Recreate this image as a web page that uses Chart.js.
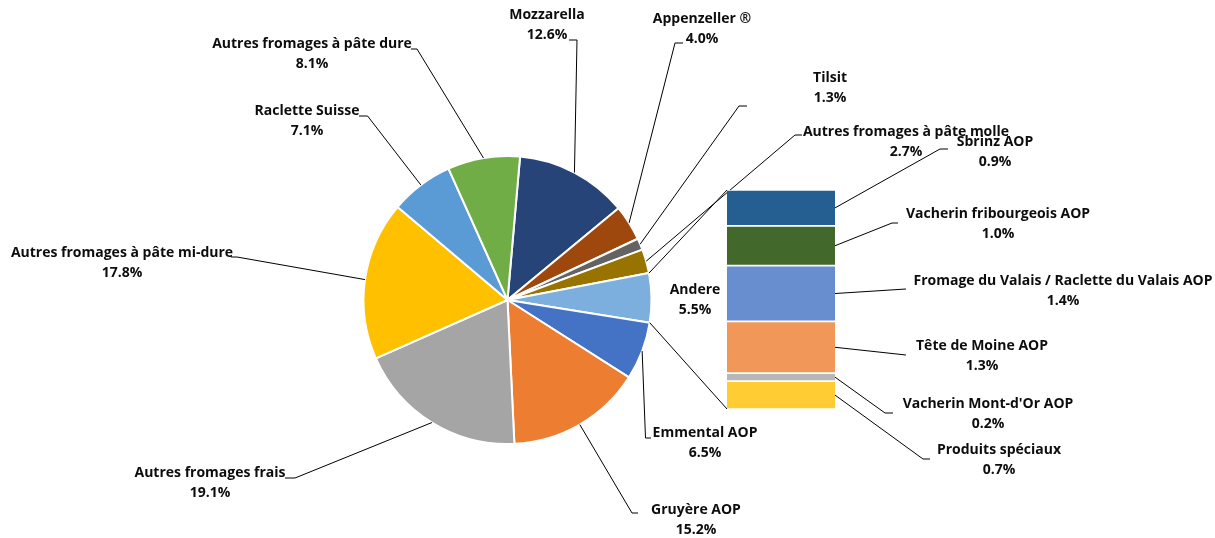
<!DOCTYPE html>
<html>
<head>
<meta charset="utf-8">
<script src="https://cdn.jsdelivr.net/npm/chart.js@4.4.0/dist/chart.umd.min.js"></script>
<style>
  html, body { margin: 0; padding: 0; background: #fff; }
  #wrap { position: relative; width: 1215px; height: 538px; }
  #wrap canvas { position: absolute; left: 0; top: 0; }
</style>
</head>
<body>
<div id="wrap">
  <canvas id="pieCanvas" width="1215" height="538"></canvas>
  <canvas id="barCanvas" width="1215" height="538"></canvas>
</div>
<script>
// pie data (clockwise from top)
const pieLabels = ["Mozzarella", "Appenzeller ®", "Tilsit", "Autres fromages à pâte molle", "Andere",
  "Emmental AOP", "Gruyère AOP", "Autres fromages frais", "Autres fromages à pâte mi-dure",
  "Raclette Suisse", "Autres fromages à pâte dure"];
const pieValues = [12.6, 4.0, 1.3, 2.7, 5.5, 6.5, 15.2, 19.1, 17.8, 7.1, 8.1];
const pieColors = ["#264478", "#9e480e", "#636363", "#997300", "#7cafdd",
  "#4472c4", "#ed7d31", "#a5a5a5", "#ffc000", "#5b9bd5", "#70ad47"];

// breakdown of "Andere" (top to bottom)
const barLabels = ["Sbrinz AOP", "Vacherin fribourgeois AOP", "Fromage du Valais / Raclette du Valais AOP",
  "Tête de Moine AOP", "Vacherin Mont-d'Or AOP", "Produits spéciaux"];
const barValues = [0.9, 1.0, 1.4, 1.3, 0.2, 0.7];
const barColors = ["#255e91", "#43682b", "#698ed0", "#f1975a", "#b7b7b7", "#ffcd33"];

// label placement: [centerX, firstLineY], leader: [elbowX, elbowY, endX] (null = no leader)
const pieLabelPos = [[547, 15], [702, 19], [830, 78], [906, 132], [695, 290], [705, 433],
  [696, 510], [210, 473], [122, 253], [307, 111], [312, 44]];
const pieLeaders = [[577, 40, 569], [675, 43, 683], [739, 106, 747], [795, 135, 802], null,
  [645.5, 438, 651], [632, 513, 638], [295, 478, 285], [237, 257, 231], [367.6, 116, 359], [417, 49, 411]];
const barLabelPos = [[995, 142], [998, 214], [1063, 281], [982, 346], [988, 404], [999, 450]];
const barLeaders = [[940, 149, 948], [892, 223, 898], [906, 289, 906], [906, 355, 906], [885, 413, 893], [923, 459, 930]];

const FONT = "bold 14px 'Open Sans'";
const LINE_GAP = 20;

function drawLabel(ctx, name, value, pos) {
  ctx.save();
  ctx.font = FONT;
  ctx.fillStyle = "#0d0d0d";
  ctx.textAlign = "center";
  ctx.textBaseline = "middle";
  ctx.fillText(name, pos[0], pos[1]);
  ctx.fillText(value.toFixed(1) + "%", pos[0], pos[1] + LINE_GAP);
  ctx.restore();
}

function drawLeader(ctx, x0, y0, lead) {
  if (!lead) return;
  ctx.save();
  ctx.strokeStyle = "#000";
  ctx.lineWidth = 1;
  ctx.beginPath();
  ctx.moveTo(x0, y0);
  ctx.lineTo(lead[0], lead[1]);
  ctx.lineTo(lead[2], lead[1]);
  ctx.stroke();
  ctx.restore();
}

const pieLabelPlugin = {
  id: "pieLabels",
  afterDraw(chart) {
    const ctx = chart.ctx;
    const arcs = chart.getDatasetMeta(0).data;
    arcs.forEach((arc, i) => {
      const p = arc.getProps(["x", "y", "startAngle", "endAngle", "outerRadius"], true);
      const mid = (p.startAngle + p.endAngle) / 2;
      drawLeader(ctx, p.x + Math.cos(mid) * p.outerRadius, p.y + Math.sin(mid) * p.outerRadius, pieLeaders[i]);
      drawLabel(ctx, pieLabels[i], pieValues[i], pieLabelPos[i]);
    });
  }
};

const pieChart = new Chart(document.getElementById("pieCanvas"), {
  type: "pie",
  data: {
    labels: pieLabels,
    datasets: [{
      data: pieValues,
      backgroundColor: pieColors,
      borderColor: "#ffffff",
      borderWidth: 2
    }]
  },
  options: {
    responsive: false,
    animation: false,
    rotation: 5,
    layout: { padding: { left: 362, right: 562, top: 155, bottom: 93 } },
    plugins: { legend: { display: false }, tooltip: { enabled: false } }
  },
  plugins: [pieLabelPlugin]
});

const barLabelPlugin = {
  id: "barLabels",
  afterDraw(chart) {
    const ctx = chart.ctx;
    const area = chart.chartArea;
    // connector lines between "Andere" slice and the bar
    const andere = pieChart.getDatasetMeta(0).data[4].getProps(["x", "y", "startAngle", "endAngle", "outerRadius"], true);
    const first = chart.getDatasetMeta(0).data[0];
    const left = first.x - first.width / 2;
    ctx.save();
    ctx.strokeStyle = "#000";
    ctx.lineWidth = 1;
    ctx.beginPath();
    ctx.moveTo(andere.x + Math.cos(andere.startAngle) * andere.outerRadius, andere.y + Math.sin(andere.startAngle) * andere.outerRadius);
    ctx.lineTo(left, area.top);
    ctx.moveTo(andere.x + Math.cos(andere.endAngle) * andere.outerRadius, andere.y + Math.sin(andere.endAngle) * andere.outerRadius);
    ctx.lineTo(left, area.bottom);
    ctx.stroke();
    ctx.restore();

    barValues.forEach((v, i) => {
      const el = chart.getDatasetMeta(i).data[0];
      const right = el.x + el.width / 2;
      const midY = (el.y + el.base) / 2;
      drawLeader(ctx, right, midY, barLeaders[i]);
      drawLabel(ctx, barLabels[i], v, barLabelPos[i]);
    });
  }
};

new Chart(document.getElementById("barCanvas"), {
  type: "bar",
  data: {
    labels: ["Andere"],
    datasets: barLabels.map((name, i) => ({
      label: name,
      data: [barValues[i]],
      backgroundColor: barColors[i],
      borderColor: "#ffffff",
      borderWidth: { top: 1.2, bottom: 1.2, left: 0, right: 0 },
      borderSkipped: false,
      barPercentage: 1,
      categoryPercentage: 1
    }))
  },
  options: {
    responsive: false,
    animation: false,
    layout: { padding: { left: 727, right: 380, top: 190, bottom: 129 } },
    scales: {
      x: { stacked: true, display: false },
      y: { stacked: true, display: false, min: 0, max: 5.5, reverse: true }
    },
    plugins: { legend: { display: false }, tooltip: { enabled: false } }
  },
  plugins: [barLabelPlugin]
});
</script>
</body>
</html>
